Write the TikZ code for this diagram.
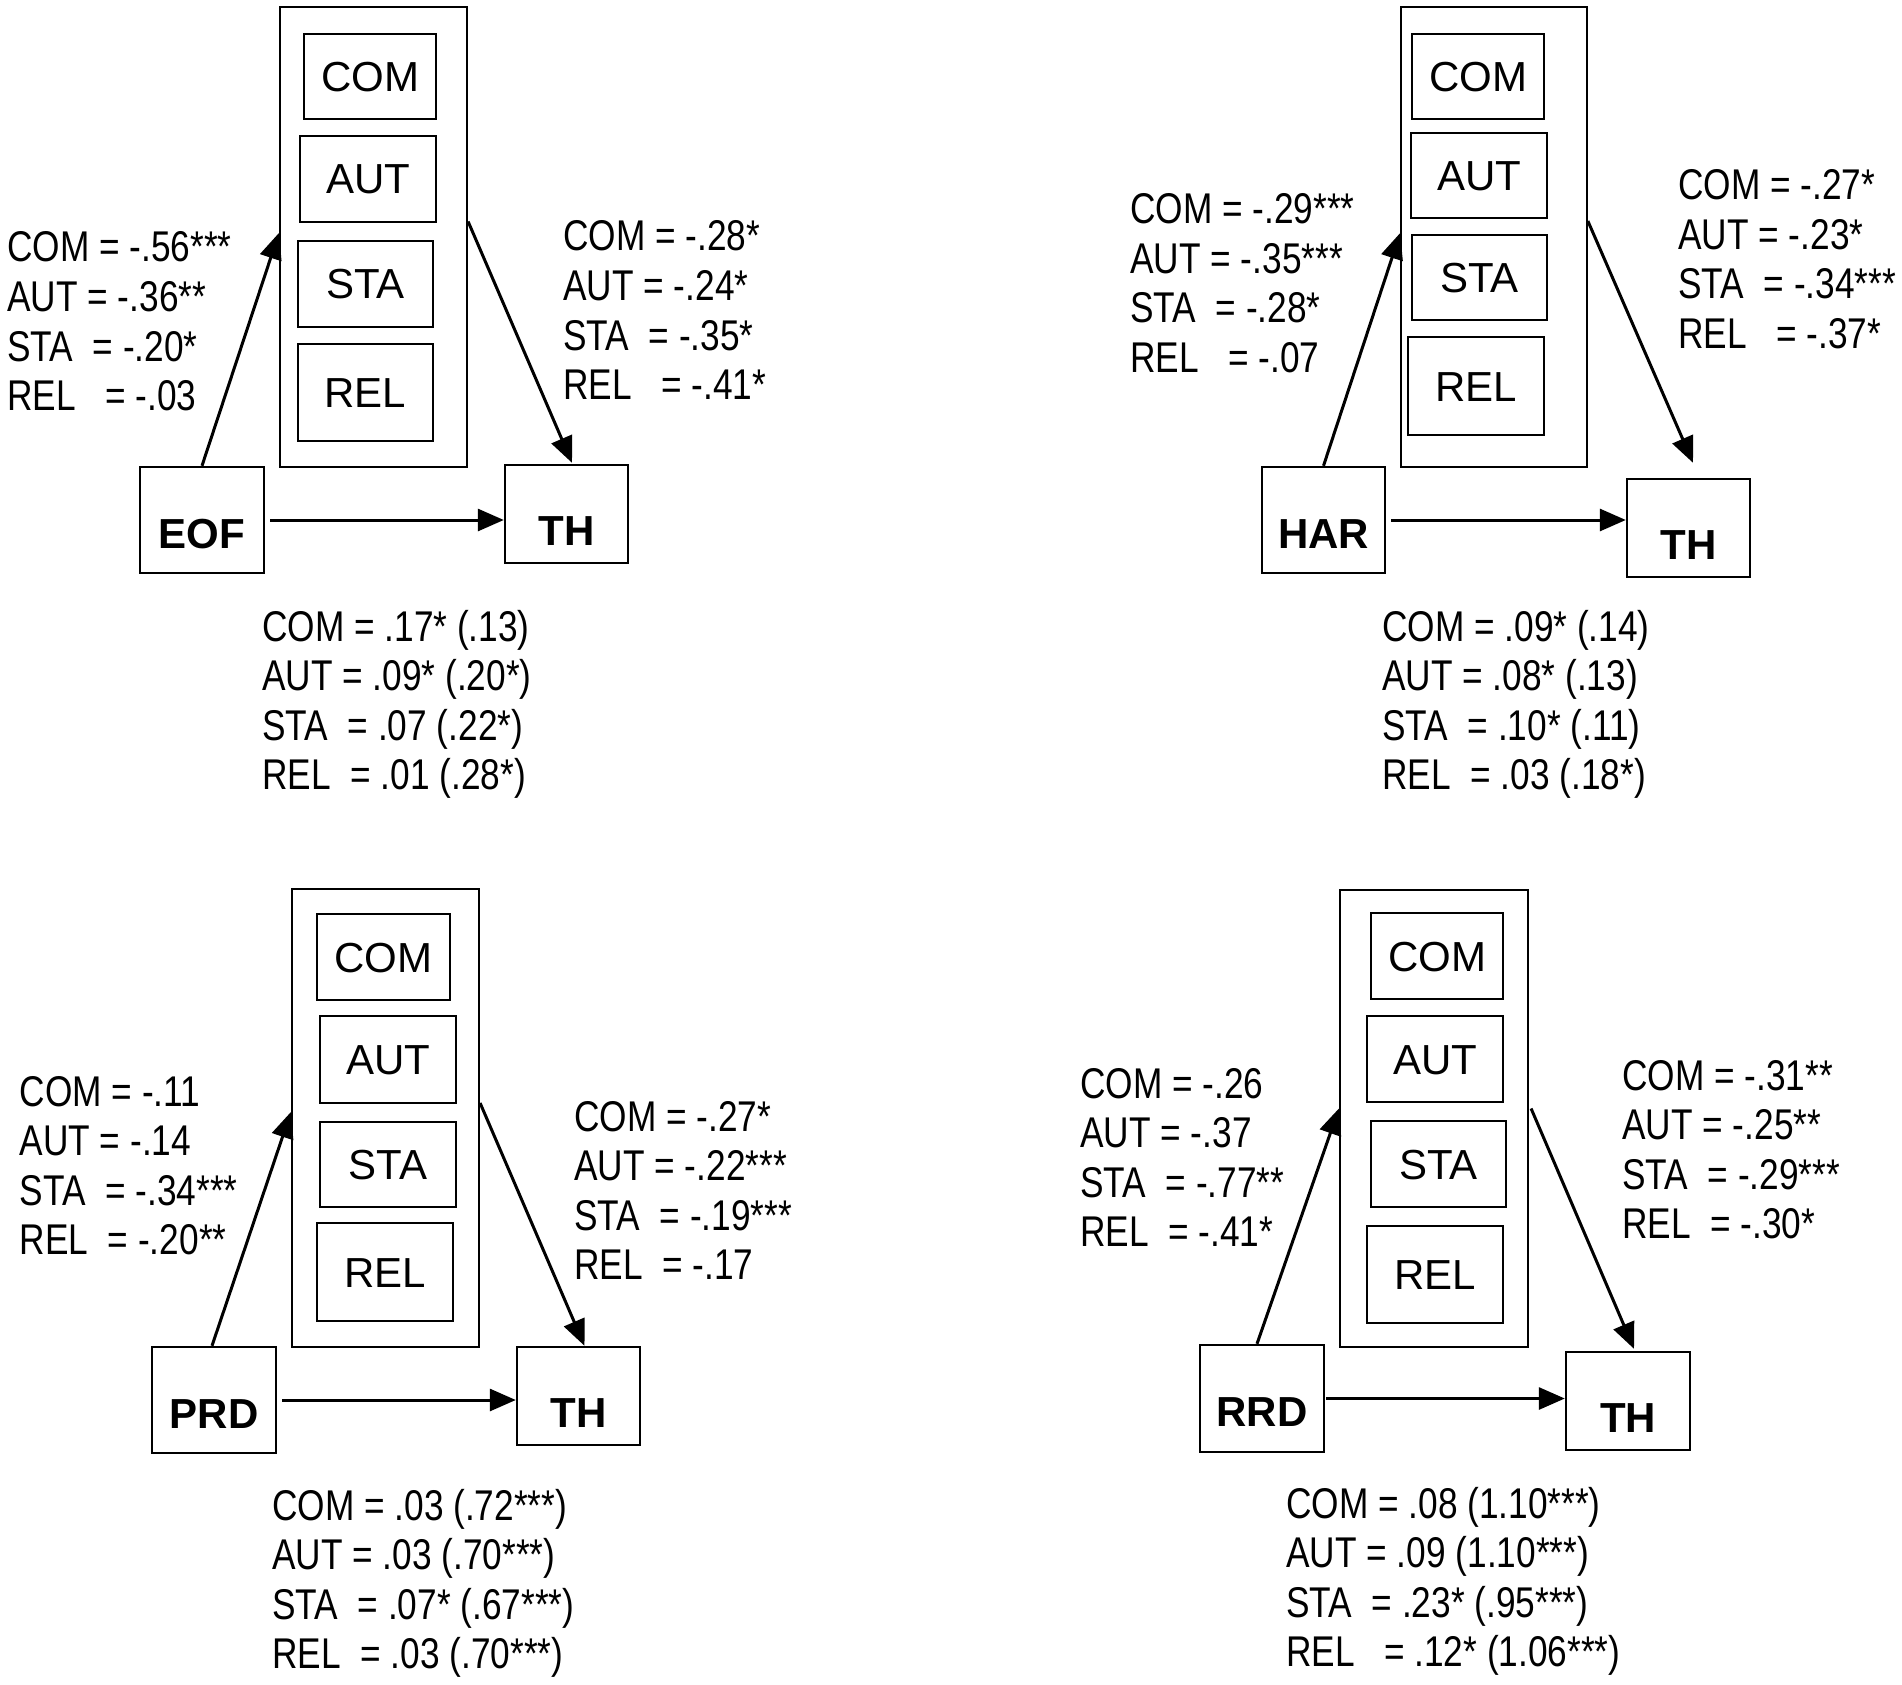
\documentclass[tikz,border=0pt]{standalone}
\usepackage{fontspec}
\setmainfont{Liberation Sans}
\newfontfamily\narrowfont[FakeStretch=0.82]{Liberation Sans}
\usetikzlibrary{arrows.meta}
\newcommand\coefblock[7]{%
  \node[coef] (#1a) at (#2,#3) {#4};
  \node[coef] (#1b) at (#2,#3+49.5) {#5};
  \node[coef] (#1c) at (#2,#3+99) {#6};
  \node[coef] (#1d) at (#2,#3+148.5) {#7};
}
\tikzset{
  coef/.style={font=\narrowfont\fontsize{43pt}{50pt}\selectfont, anchor=base west, inner sep=0pt},
  outerbox/.style={draw, line width=2.2pt, inner sep=0pt},
  medbox/.style={draw, line width=2.4pt, inner sep=0pt, font=\fontsize{42pt}{48pt}\selectfont, text height=30pt, text depth=0pt},
  varbox/.style={draw, line width=2.4pt, inner sep=0pt, font=\bfseries\fontsize{42pt}{48pt}\selectfont, text height=56pt, text depth=0pt},
  thbox/.style={varbox, text height=62pt},
  arr/.style={line width=3pt, -{Triangle[length=26pt,width=22pt]}}
}
\begin{document}
\begin{tikzpicture}[x=1pt,y=-1pt]
\useasboundingbox[fill=white] (0,0) rectangle (1902,1685);

% ---------- Panel 1 ----------
\node[outerbox, minimum width=187pt, minimum height=460pt] (out1) at (373.5,237) {};
\node[medbox, minimum width=132pt, minimum height=85pt] (com1) at (370,76.5) {COM};
\node[medbox, minimum width=136pt, minimum height=86pt] (aut1) at (368,179) {AUT};
\node[medbox, minimum width=135pt, minimum height=86pt] (sta1) at (365.5,284) {STA};
\node[medbox, minimum width=135pt, minimum height=97pt] (rel1) at (365.5,392.5) {REL};
\node[varbox, minimum width=124pt, minimum height=106pt] (eof) at (202,520) {EOF};
\node[thbox, minimum width=123pt, minimum height=98pt] (th1) at (566.5,514) {TH};
\draw[arr] (eof.north) -- ([yshift=4pt]out1.west);
\draw[arr] ([yshift=15.5pt]out1.east) -- ([xshift=5.5pt,yshift=1pt]th1.north);
\draw[arr] ([xshift=5pt]eof.east) -- (eof.east -| th1.west);
\coefblock{l1}{7}{262}{COM = -.56***}{AUT = -.36**}{STA\ \ = -.20*}{REL\ \ \ = -.03}
\coefblock{r1}{563}{251}{COM = -.28*}{AUT = -.24*}{STA\ \ = -.35*}{REL\ \ \ = -.41*}
\coefblock{b1}{262}{641}{COM = .17* (.13)}{AUT = .09* (.20*)}{STA\ \ = .07 (.22*)}{REL\ \ = .01 (.28*)}

% ---------- Panel 2 ----------
\node[outerbox, minimum width=185.5pt, minimum height=460pt] (out2) at (1494,237) {};
\node[medbox, minimum width=132pt, minimum height=85pt] (com2) at (1478,76.5) {COM};
\node[medbox, minimum width=136pt, minimum height=85pt] (aut2) at (1479,175.5) {AUT};
\node[medbox, minimum width=135pt, minimum height=85pt] (sta2) at (1479.5,277.5) {STA};
\node[medbox, minimum width=136pt, minimum height=98pt] (rel2) at (1476,386) {REL};
\node[varbox, minimum width=123pt, minimum height=106pt] (har) at (1323.5,520) {HAR};
\node[thbox, minimum width=123pt, minimum height=98pt] (th2) at (1688.5,528) {TH};
\draw[arr] (har.north) -- ([yshift=4pt]out2.west);
\draw[arr] ([yshift=16pt]out2.east) -- ([xshift=4.5pt,yshift=15pt]th2.north);
\draw[arr] ([xshift=5pt]har.east) -- (har.east -| th2.west);
\coefblock{l2}{1130}{224}{COM = -.29***}{AUT = -.35***}{STA\ \ = -.28*}{REL\ \ \ = -.07}
\coefblock{r2}{1678}{200}{COM = -.27*}{AUT = -.23*}{STA\ \ = -.34***}{REL\ \ \ = -.37*}
\coefblock{b2}{1382}{641}{COM = .09* (.14)}{AUT = .08* (.13)}{STA\ \ = .10* (.11)}{REL\ \ = .03 (.18*)}

% ---------- Panel 3 ----------
\node[outerbox, minimum width=187pt, minimum height=458pt] (out3) at (385.5,1118) {};
\node[medbox, minimum width=133pt, minimum height=86pt] (com3) at (383.5,957) {COM};
\node[medbox, minimum width=136pt, minimum height=87pt] (aut3) at (388,1059.5) {AUT};
\node[medbox, minimum width=136pt, minimum height=85pt] (sta3) at (388,1164.5) {STA};
\node[medbox, minimum width=136pt, minimum height=98pt] (rel3) at (385,1272) {REL};
\node[varbox, minimum width=124pt, minimum height=106pt] (prd) at (214,1400) {PRD};
\node[thbox, minimum width=123pt, minimum height=98pt] (th3) at (578.5,1396) {TH};
\draw[arr] ([xshift=-2pt]prd.north) -- ([yshift=6pt]out3.west);
\draw[arr] ([yshift=15pt]out3.east) -- ([xshift=6pt]th3.north);
\draw[arr] ([xshift=5pt]prd.east) -- (prd.east -| th3.west);
\coefblock{l3}{19.5}{1106}{COM = -.11}{AUT = -.14}{STA\ \ = -.34***}{REL\ \ = -.20**}
\coefblock{r3}{574}{1131}{COM = -.27*}{AUT = -.22***}{STA\ \ = -.19***}{REL\ \ = -.17}
\coefblock{b3}{272}{1520}{COM = .03 (.72***)}{AUT = .03 (.70***)}{STA\ \ = .07* (.67***)}{REL\ \ = .03 (.70***)}

% ---------- Panel 4 ----------
\node[outerbox, minimum width=188pt, minimum height=457pt] (out4) at (1434,1118.5) {};
\node[medbox, minimum width=132pt, minimum height=86pt] (com4) at (1437,956) {COM};
\node[medbox, minimum width=136pt, minimum height=86pt] (aut4) at (1435,1059) {AUT};
\node[medbox, minimum width=135pt, minimum height=86pt] (sta4) at (1438.5,1164) {STA};
\node[medbox, minimum width=136pt, minimum height=97pt] (rel4) at (1435,1274.5) {REL};
\node[varbox, minimum width=124pt, minimum height=107pt] (rrd) at (1262,1398.5) {RRD};
\node[thbox, minimum width=124pt, minimum height=98pt] (th4) at (1628,1401) {TH};
\draw[arr] ([xshift=-5pt]rrd.north) -- ([yshift=10pt]out4.west);
\draw[arr] ([xshift=2pt,yshift=10pt]out4.east) -- ([xshift=6pt,yshift=2pt]th4.north);
\draw[arr] ([xshift=1pt]rrd.east) -- (rrd.east -| th4.west);
\coefblock{l4}{1080}{1098}{COM = -.26}{AUT = -.37}{STA\ \ = -.77**}{REL\ \ = -.41*}
\coefblock{r4}{1622}{1090}{COM = -.31**}{AUT = -.25**}{STA\ \ = -.29***}{REL\ \ = -.30*}
\coefblock{b4}{1286}{1518}{COM = .08 (1.10***)}{AUT = .09 (1.10***)}{STA\ \ = .23* (.95***)}{REL\ \ \ = .12* (1.06***)}
\end{tikzpicture}
\end{document}
